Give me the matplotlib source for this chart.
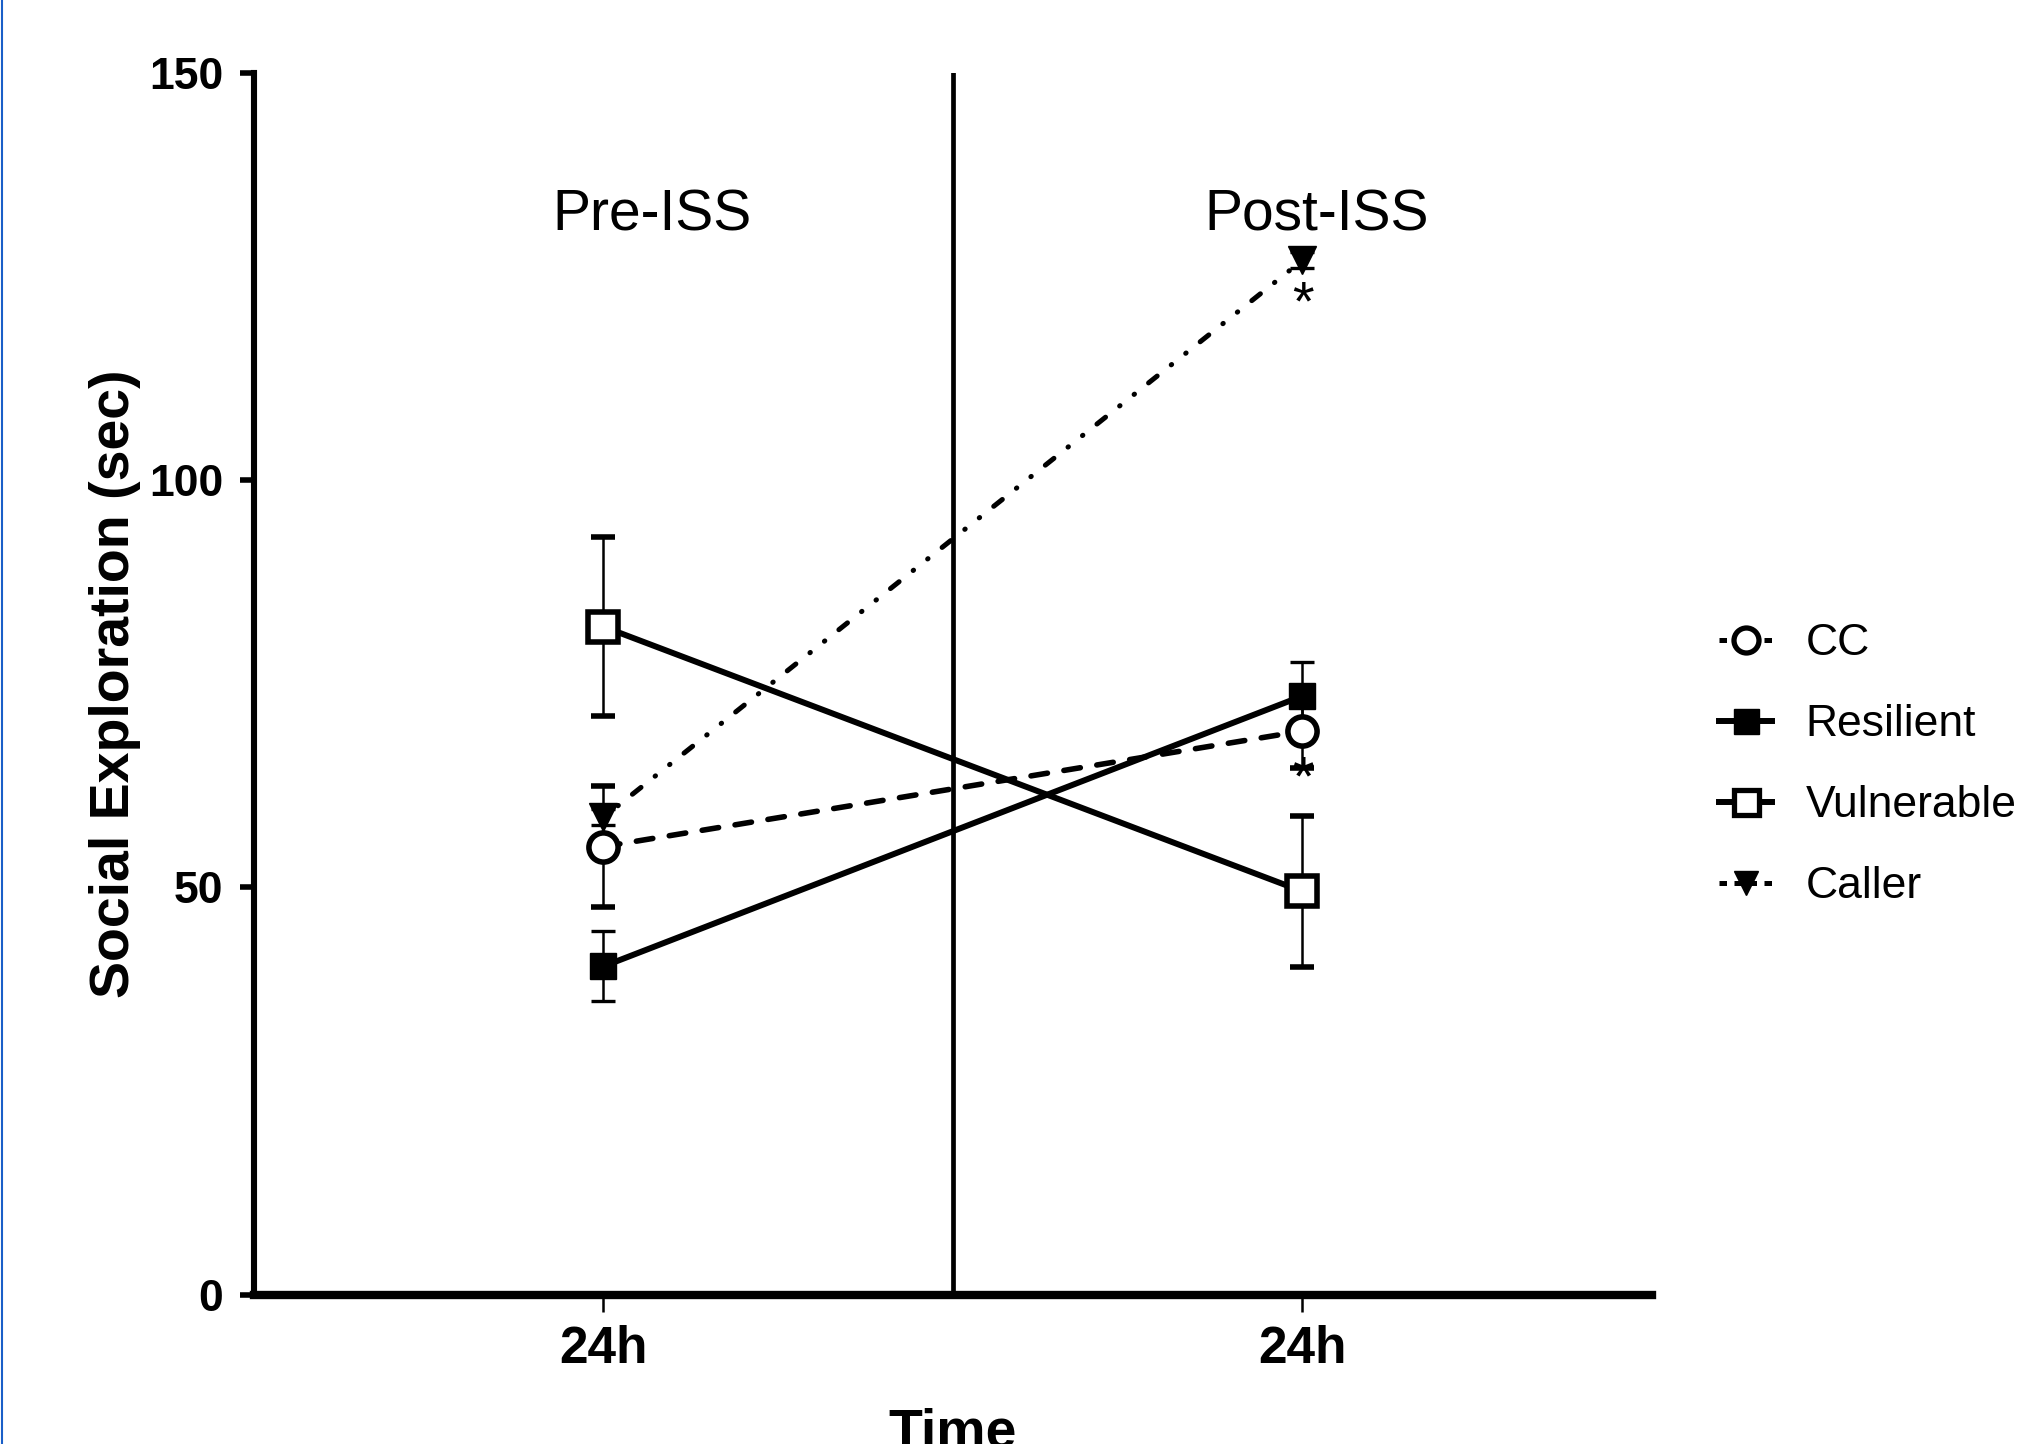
import matplotlib
matplotlib.use('Agg')
import matplotlib.pyplot as plt
from matplotlib.lines import Line2D

# data (mean +/- SEM)
timepoints = ['24h', '24h']
groups = ['CC', 'Resilient', 'Vulnerable', 'Caller']
cc_mean = [55.0, 69.2]
cc_sem = [7.4, 4.5]
resilient_mean = [40.3, 73.5]
resilient_sem = [4.3, 4.2]
vulnerable_mean = [82.0, 49.5]
vulnerable_sem = [11.0, 9.3]
caller_mean = [58.6, 127.0]
caller_sem = [1.0, 1.0]
phase_labels = ['Pre-ISS', 'Post-ISS']

narrow = ['Liberation Sans Narrow', 'Liberation Sans', 'DejaVu Sans']
arial = ['Liberation Sans', 'DejaVu Sans']

fig = plt.figure(figsize=(20.4, 14.44), dpi=100)
ax = fig.add_axes([0.1245, 0.1035, 0.8098 - 0.1245, 0.9495 - 0.1035])

x = [0, 1]
err_kw = dict(ecolor='black', elinewidth=1.8, capsize=8.5, capthick=2.4)

ax.errorbar(x, vulnerable_mean, yerr=vulnerable_sem, color='black', lw=4.3,
            marker='s', ms=22, mfc='white', mec='black', mew=4, zorder=4, **err_kw)
ax.errorbar(x, resilient_mean, yerr=resilient_sem, color='black', lw=4.3,
            marker='s', ms=19, mfc='black', mec='black', zorder=4, **err_kw)
cc = ax.errorbar(x, cc_mean, yerr=cc_sem, color='black', lw=4,
                 marker='o', ms=21, mfc='white', mec='black', mew=4, zorder=5, **err_kw)
cc[0].set_dashes((3, 3))
cc[0].set_dash_capstyle('round')
caller = ax.errorbar(x, caller_mean, yerr=caller_sem, color='black', lw=3.6,
                     marker='v', ms=20, mfc='black', mec='black', zorder=6, **err_kw)
caller[0].set_dashes((0.1, 3.6, 0.1, 3.6, 2.2, 3.6))
caller[0].set_dash_capstyle('round')

# significance marks
ax.text(1, caller_mean[1] - 5.6, '*', ha='center', va='center', fontsize=40, family=arial)
ax.text(1, cc_mean[1] - 6.1, '*', ha='center', va='center', fontsize=40, family=arial)

# divider between phases
ax.plot([0.5, 0.5], [0, 150], color='black', lw=3.4, zorder=2)
ax.text(0.07, 132.5, phase_labels[0], ha='center', va='center', fontsize=41, family=narrow)
ax.text(1.02, 132.5, phase_labels[1], ha='center', va='center', fontsize=41, family=narrow)

ax.set_xlim(-0.5, 1.5)
ax.set_ylim(0, 150)
ax.set_yticks([0, 50, 100, 150])
ax.set_xticks(x)
ax.set_xticklabels(timepoints)
for lab in ax.get_xticklabels():
    lab.set_family(narrow)
    lab.set_fontweight('bold')
    lab.set_fontsize(37)
for lab in ax.get_yticklabels():
    lab.set_family(arial)
    lab.set_fontweight('bold')
    lab.set_fontsize(32)

for s in ['top', 'right']:
    ax.spines[s].set_visible(False)
ax.spines['left'].set_linewidth(4.4)
ax.spines['bottom'].set_linewidth(6)
ax.tick_params(axis='y', length=10, width=4, pad=12)
ax.tick_params(axis='x', length=12, width=1.8, pad=10)

ax.set_ylabel('Social Exploration (sec)', fontsize=40, fontweight='bold', family=arial, labelpad=6)
ax.set_xlabel('Time', fontsize=40, fontweight='bold', family=narrow, labelpad=24)

handles = [
    Line2D([], [], color='black', lw=3.6, dashes=(1.5, 1.5), marker='o', ms=18, mfc='white', mew=3.8),
    Line2D([], [], color='black', lw=4.3, marker='s', ms=18, mfc='black'),
    Line2D([], [], color='black', lw=4.3, marker='s', ms=18, mfc='white', mew=3.8),
    Line2D([], [], color='black', lw=3.6, dashes=(1.5, 1.5), marker='v', ms=17, mfc='black'),
]
fig.legend(handles, groups, loc='center left', bbox_to_anchor=(0.823, 0.470),
           frameon=False, handlelength=1.2, handletextpad=0.75, labelspacing=0.9,
           prop={'family': narrow, 'size': 32})

# thin blue border on the left edge
fig.add_artist(Line2D([0.0008, 0.0008], [0, 1], color='#1a5fc8', lw=1.5, transform=fig.transFigure))

fig.savefig('out.png', dpi=100)
